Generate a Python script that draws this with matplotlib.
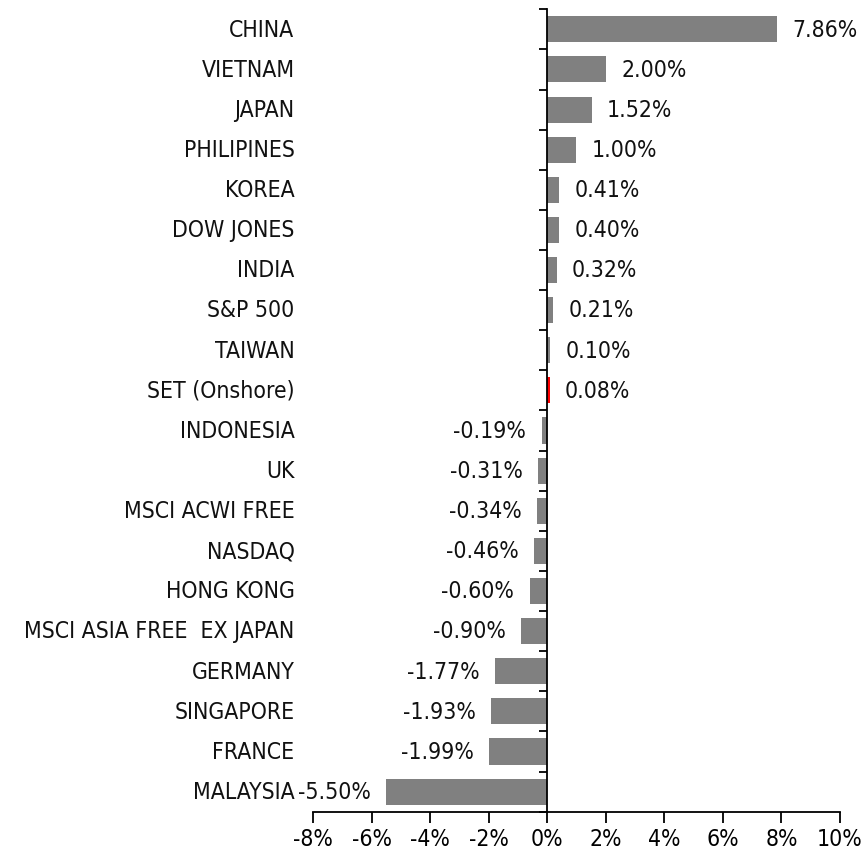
import matplotlib
matplotlib.use('Agg')
from matplotlib import pyplot as plt
from matplotlib import ticker
import numpy as np

# index returns, top to bottom as in the chart
markets = ['CHINA', 'VIETNAM', 'JAPAN', 'PHILIPINES', 'KOREA', 'DOW JONES', 'INDIA',
           'S&P 500', 'TAIWAN', 'SET (Onshore)', 'INDONESIA', 'UK', 'MSCI ACWI FREE',
           'NASDAQ', 'HONG KONG', 'MSCI ASIA FREE  EX JAPAN', 'GERMANY', 'SINGAPORE',
           'FRANCE', 'MALAYSIA']
returns = [7.86, 2.00, 1.52, 1.00, 0.41, 0.40, 0.32, 0.21, 0.10, 0.08, -0.19, -0.31,
           -0.34, -0.46, -0.60, -0.90, -1.77, -1.93, -1.99, -5.50]
highlight = 'SET (Onshore)'

plt.rcParams['font.family'] = ['DejaVu Sans']
plt.rcParams['font.stretch'] = 'condensed'
fs = 16.5

fig = plt.figure(figsize=(8.63, 8.58), dpi=100)
ax = fig.add_axes([0.3627, 0.0540, 0.6106, 0.9352])

pos = np.arange(len(markets))
barColors = ['#ff0000' if m == highlight else '#808080' for m in markets]
ax.barh(pos, returns, height=0.65, color=barColors)

ax.set_ylim(len(markets) - 0.5, -0.5)
ax.set_xlim(-8, 10)

for spine in ['top', 'right']:
    ax.spines[spine].set_visible(False)
ax.spines['left'].set_position(('data', 0))
ax.spines['left'].set_linewidth(1.3)
ax.spines['bottom'].set_linewidth(1.3)

# ticks between categories on the zero line
ax.set_yticks(pos)
ax.set_yticklabels([])
ax.tick_params(axis='y', which='major', length=0)
ax.set_yticks(np.arange(len(markets) + 1) - 0.5, minor=True)
ax.tick_params(axis='y', which='minor', length=6, width=1.3, direction='out')

ax.set_xticks(np.arange(-8, 11, 2))
ax.xaxis.set_major_formatter(ticker.FuncFormatter(lambda v, p: '%d%%' % v))
ax.tick_params(axis='x', length=8, width=1.3, direction='out', labelsize=fs, pad=4)

# category names on the left
for i, m in enumerate(markets):
    ax.text(-0.035, i + 0.02, m, transform=ax.get_yaxis_transform(), ha='right', va='center',
            fontsize=fs, color='#111111')

# value labels
for i, v in enumerate(returns):
    off = 11 if v >= 0 else -11
    ax.annotate('%.2f%%' % v, (v, i + 0.02), xytext=(off, 0), textcoords='offset points',
                ha='left' if v >= 0 else 'right', va='center', fontsize=fs,
                color='#111111')

plt.savefig('out.png', dpi=100)
plt.close()
